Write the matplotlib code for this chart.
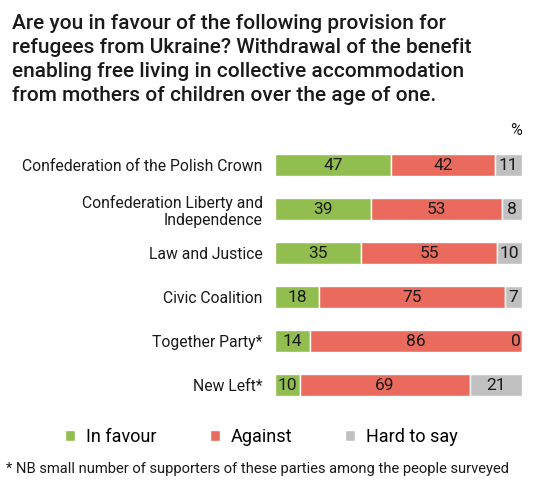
import matplotlib
matplotlib.use("Agg")
import matplotlib.pyplot as plt
import numpy as np

plt.rcParams['font.family'] = ['Roboto', 'DejaVu Sans']

# Data
parties = ["Confederation of the Polish Crown",
           "Confederation Liberty and\nIndependence",
           "Law and Justice",
           "Civic Coalition",
           "Together Party*",
           "New Left*"]
in_favour = [47, 39, 35, 18, 14, 10]
against = [42, 53, 55, 75, 86, 69]
hard_to_say = [11, 8, 10, 7, 0, 21]

series_names = ["In favour", "Against", "Hard to say"]
colors = ["#92be4f", "#ea6b5d", "#c0c0c0"]

title = ("Are you in favour of the following provision for\n"
         "refugees from Ukraine? Withdrawal of the benefit\n"
         "enabling free living in collective accommodation\n"
         "from mothers of children over the age of one.")
footnote = "* NB small number of supporters of these parties among the people surveyed"

fig = plt.figure(figsize=(5.34, 4.91), dpi=100)
ax = fig.add_axes([0.515, 0.171, 0.4625, 0.5377])

y = np.arange(len(parties))
left = np.zeros(len(parties))
for vals, name, col in zip([in_favour, against, hard_to_say], series_names, colors):
    vals = np.array(vals, dtype=float)
    ax.barh(y, vals, left=left, height=0.48, color=col,
            edgecolor="white", linewidth=1, label=name)
    for yi, l, v in zip(y, left, vals):
        if v == 0:
            ax.text(l - 0.5, yi, "0", ha="right", va="center", fontsize=12.5, color="#1a1a1a")
        else:
            ax.text(l + v / 2, yi, str(int(v)), ha="center", va="center",
                    fontsize=12.5, color="#1a1a1a")
    left += vals

ax.set_xlim(0, 100)
ax.set_ylim(len(parties) - 0.5, -0.5)
ax.set_yticks(y)
ax.set_yticklabels(parties, fontsize=11.3, color="#1a1a1a", multialignment="right")
ax.tick_params(axis="y", length=0, pad=9)
ax.set_xticks([])
for s in ax.spines.values():
    s.set_visible(False)

fig.text(0.022, 0.972, title, ha="left", va="top", fontsize=15, weight="medium",
         color="#1a1a1a", linespacing=1.34)
fig.text(0.967, 0.735, "%", ha="center", va="center", fontsize=11.5, color="#1a1a1a")

handles, labels = ax.get_legend_handles_labels()
fig.legend(handles, labels, loc="center", bbox_to_anchor=(0.49, 0.11), ncol=3,
           frameon=False, fontsize=13, handlelength=0.55, handleheight=0.55,
           handletextpad=0.6, columnspacing=2.95)
fig.text(0.012, 0.045, footnote, ha="left", va="center", fontsize=10.6, color="#1a1a1a")

fig.savefig("out.png", dpi=100)
